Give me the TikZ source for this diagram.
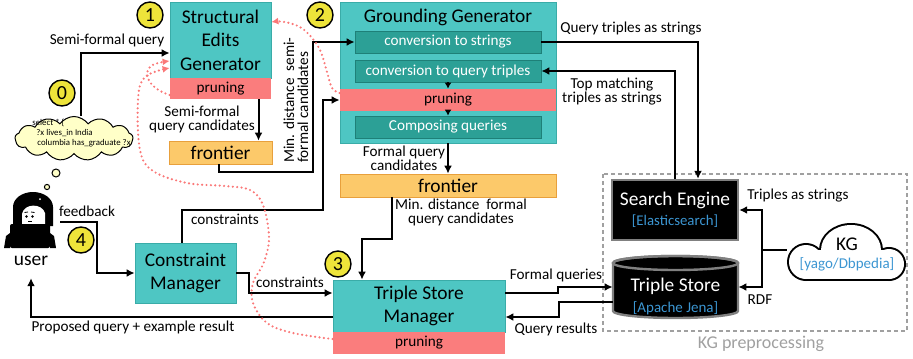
\documentclass[tikz,border=0pt]{standalone}
\usepackage{fontspec}
\setmainfont{Carlito}
\usetikzlibrary{arrows.meta,shapes.symbols}
\definecolor{tealbox}{RGB}{78,198,195}
\definecolor{tealedge}{RGB}{58,172,168}
\definecolor{tealdark}{RGB}{44,160,150}
\definecolor{tealdeep}{RGB}{30,128,120}
\definecolor{prunered}{RGB}{250,125,125}
\definecolor{frontorange}{RGB}{252,201,106}
\definecolor{frontedge}{RGB}{232,160,60}
\definecolor{numyellow}{RGB}{238,228,58}
\definecolor{thoughtyellow}{RGB}{255,255,200}
\definecolor{linkblue}{RGB}{60,150,210}
\definecolor{dotred}{RGB}{250,120,120}
\definecolor{storegray}{RGB}{128,128,128}
\definecolor{framegray}{RGB}{160,160,160}
\tikzstyle{module}=[fill=tealbox,draw=tealedge,inner sep=0pt,align=center,font=\fontsize{9.7}{11.75}\selectfont]
\tikzstyle{prune}=[fill=prunered,inner sep=0pt,font=\fontsize{7.6}{9}\selectfont]
\tikzstyle{stage}=[fill=tealdark,draw=tealdeep,text=white,inner sep=0pt,minimum width=93pt,minimum height=11pt,font=\fontsize{7.6}{9}\selectfont]
\tikzstyle{front}=[fill=frontorange,draw=frontedge,inner sep=0pt,minimum height=11.5pt,font=\fontsize{9.7}{11}\selectfont]
\tikzstyle{num}=[circle,fill=numyellow,draw=black,line width=0.7pt,minimum size=13pt,inner sep=0pt,font=\fontsize{10}{10}\selectfont]
\tikzstyle{engine}=[fill=black,draw=storegray,line width=1.2pt,text=white,align=center,inner sep=0pt,font=\fontsize{9.7}{10}\selectfont]
\tikzstyle{lbl}=[inner sep=0pt,align=center,font=\fontsize{7.6}{7}\selectfont]
\tikzstyle{flow}=[line width=1pt,-{Latex[length=4pt,width=4pt]}]
\tikzstyle{loopback}=[dotred,line width=1.2pt,line cap=round,dash pattern=on 0pt off 2.2pt,-{Latex[length=3.5pt,width=3.5pt]}]
\tikzstyle{puff}=[fill=black,draw=black,line width=2pt]

\begin{document}
\begin{tikzpicture}[x=0.5pt,y=-0.5pt]
\useasboundingbox (0,0) rectangle (913,358);

% KG preprocessing frame
\draw[framegray,line width=0.6pt,dash pattern=on 2pt off 1.5pt] (603,174) rectangle (907,331);
\node[text=framegray,font=\fontsize{9}{10}\selectfont] (prep) at (761,344) {KG preprocessing};

% modules
\node[module,minimum width=50.5pt,minimum height=38pt] (seg) at (220.5,40) {Structural\\Edits\\Generator};
\node[prune,minimum width=50.5pt,minimum height=10.5pt] (segprune) at (220.5,88.5) {pruning};
\node[front,minimum width=51.5pt] (front1) at (220.5,152.5) {frontier};

\node[module,minimum width=108pt,minimum height=70.5pt] (gg) at (448,72.5) {};
\node[font=\fontsize{9.7}{11}\selectfont] (ggtitle) at (448,17) {Grounding Generator};
\node[stage] (tostr) at (448,42) {conversion to strings};
\node[stage] (totrip) at (448,71) {conversion to query triples};
\node[prune,minimum width=108pt,minimum height=11pt] (ggprune) at (448,100) {pruning};
\node[stage] (compose) at (448,127) {Composing queries};
\node[front,minimum width=108pt] (front2) at (448,185.5) {frontier};

\node[module,minimum width=86pt,minimum height=26pt] (tsm) at (419,306) {Triple Store\\Manager};
\node[prune,minimum width=86pt,minimum height=11pt] (tsmprune) at (419,343) {pruning};
\node[module,minimum width=50.5pt,minimum height=30pt] (cm) at (185.5,273) {Constraint\\Manager};

\node[engine,minimum width=63pt,minimum height=30pt] (se) at (675,210) {Search Engine\\{\fontsize{7.4}{8}\selectfont\color{linkblue}[Elasticsearch]}};

% triple store cylinder
\draw[fill=black,draw=storegray,line width=1.2pt] (613,263) -- (613,311) arc[start angle=180,end angle=0,x radius=62.5,y radius=7] -- (738,263) arc[start angle=0,end angle=-180,x radius=62.5,y radius=7] -- cycle;
\draw[storegray,line width=1.2pt] (675.5,263) ellipse[x radius=62.5,y radius=7];
\node[align=center,text=white,inner sep=0pt,minimum width=62.5pt,font=\fontsize{9.7}{10.5}\selectfont] (store) at (675.5,296) {Triple Store\\{\fontsize{7.5}{8}\selectfont\color{linkblue}[Apache Jena]}};

% KG cloud: black pass, then white pass
\path[puff] (806,262) circle[radius=17];
\path[puff] (851,250) ellipse[x radius=30,y radius=25];
\path[puff] (889,264) circle[radius=15];
\path[puff] (806,250) rectangle (889,279);
\fill[white] (806,262) circle[radius=17];
\fill[white] (851,250) ellipse[x radius=30,y radius=25];
\fill[white] (889,264) circle[radius=15];
\fill[white] (806,250) rectangle (889,279);
\node[align=center,inner sep=0pt,minimum width=60pt,font=\fontsize{9.7}{9}\selectfont] (kg) at (847,254) {KG\\{\fontsize{7.5}{8}\selectfont\color{linkblue}[yago/Dbpedia]}};

% thought of the user
\node[cloud,cloud puffs=13,cloud puff arc=110,cloud ignores aspect,fill=thoughtyellow,draw=black,line width=0.5pt,minimum width=59pt,minimum height=22pt,inner sep=0pt] (thought) at (74,138.5) {};
\node[anchor=west,align=left,inner sep=0pt,font=\fontsize{4.4}{5}\selectfont] (sparql) at (32,133) {select * \{\\\hspace{2pt}?x lives\_in India\\\hspace{2.5pt}columbia has\_graduate ?x};
\draw[fill=thoughtyellow,line width=0.5pt] (56,173) circle[radius=2pt];
\draw[fill=thoughtyellow,line width=0.5pt] (47,187) circle[radius=1.3pt];

% user
\node[minimum width=26pt,minimum height=28pt,inner sep=0pt] (user) at (31,222) {};
\fill (13,226) -- (13,207) arc[start angle=180,end angle=360,x radius=20,y radius=15] -- (53,226) -- cycle;
\fill[white] (22,226) -- (22,214) .. controls (24,203) and (42,203) .. (45,213) -- (45,226) -- cycle;
\fill[white] (40,199) circle[radius=1];
\fill (26.5,216.5) circle[radius=1.4];
\fill (32.5,216.5) circle[radius=1.4];
\draw[line width=0.4pt] (24.5,212.5) -- (28,212);
\draw[line width=0.4pt] (31,212) -- (34.5,212.5);
\draw[line width=0.4pt] (28,221.5) -- (31.5,221.5);
\fill[rounded corners=1pt] (10,248) -- (10,224) -- (50,224) -- (50,248) -- cycle;
\fill (4,248) -- (6,236) -- (10,233) -- (10,248) -- cycle;
\fill (56,248) -- (54,236) -- (50,233) -- (50,248) -- cycle;
\node[font=\fontsize{9.7}{11}\selectfont,inner sep=1pt] (userlbl) at (31,261) {user};

% step numbers
\node[num] (n0) at (62,93) {0};
\node[num] (n1) at (150,15) {1};
\node[num] (n2) at (320,15) {2};
\node[num] (n3) at (338,264) {3};
\node[num] (n4) at (81,240) {4};

% connectors
\draw[flow] ([xshift=3.5pt]thought.north) |- ([yshift=-6.5pt]seg.west);
\draw[flow] ([xshift=19pt]segprune.south) -- ([xshift=19pt]front1.north);
\draw[flow] ([xshift=-1pt]front1.south) |- (313,172) |- (tostr.west);
\draw[flow] ([xshift=-2pt]cm.north) |- (323,210) |- (ggprune.west);
\draw[flow,-{Latex[length=3pt,width=3.5pt]}] (totrip.south) -- (ggprune.north);
\draw[flow,-{Latex[length=3pt,width=3.5pt]}] (ggprune.south) -- (compose.north);
\draw[flow] (gg.south) -- (front2.north);
\draw[flow] ([xshift=-28pt]front2.south) -- ++(0,42) -| ([xshift=-28.5pt]tsm.north);
\draw[flow] ([xshift=1.5pt]user.east) -| (97,273) -- (cm.west);
\draw[flow] (cm.east) -- (249,273) |- ([yshift=6.5pt]tsm.west);
\draw[flow] ([yshift=-5.5pt]tsm.west) -| ([yshift=-5pt]userlbl.south);
\draw[flow] ([yshift=6.5pt]tsm.east) -- (558,293) |- ([yshift=4.5pt]store.west);
\draw[flow] ([yshift=-3pt]store.west) -| (559,317) -- ([yshift=-5.5pt]tsm.east);
\draw[flow] (tostr.east) -| ([xshift=11.5pt]se.north);
\draw[flow] (se.north) |- (totrip.east);
\coordinate (kgsplit) at (762,250);
\draw[line width=1pt] ([yshift=2pt]kg.west) -- (kgsplit);
\draw[flow] (kgsplit) |- (se.east);
\draw[flow] (kgsplit) |- ([yshift=4.5pt]store.east);

% connector labels
\node[lbl] (l1) at (107,40) {Semi-formal query};
\node[lbl] (l2) at (202,119) {Semi-formal\\query candidates};
\node[lbl,align=left,rotate=90] (l3) at (296,100) {Min. distance\ \ semi-\\formal candidates};
\node[lbl] (l4) at (225,219) {constraints};
\node[lbl] (l5) at (290,282) {constraints};
\node[lbl] (l6) at (87,211) {feedback};
\node[lbl] (l7) at (133,327) {Proposed query + example result};
\node[lbl] (l8) at (404,158) {Formal query\\candidates};
\node[lbl] (l9) at (461,212) {Min. distance\ \ formal\\query candidates};
\node[lbl] (l10) at (631,29) {Query triples as strings};
\node[lbl] (l11) at (612,92) {Top matching\\triples as strings};
\node[lbl] (l12) at (556,275) {Formal queries};
\node[lbl] (l13) at (556,329) {Query results};
\node[lbl] (l14) at (798,196) {Triples as strings};
\node[lbl] (l15) at (760,300) {RDF};

% pruning feeds back
\draw[loopback] plot[smooth,tension=0.7] coordinates {([yshift=-3.25pt]segprune.west) (157,89) (148,78) (151,66) ([yshift=-10.5pt]seg.west)};
\draw[loopback] plot[smooth,tension=0.6] coordinates {([yshift=2pt]tsmprune.west) (293,333) (267,323) (253,303) (253,283) (264,262) (269,237) (263,205) (250,190) (225,186) (187,183) (153,171) (140,150) (138,100) (145,77) ([yshift=-14pt]seg.west)};
\draw[loopback] plot[smooth,tension=0.6] coordinates {([yshift=3.5pt]ggprune.west) (332,88) (327,72) (319,48) (303,29) (285,22) ([yshift=9pt]seg.east)};
\end{tikzpicture}
\end{document}
